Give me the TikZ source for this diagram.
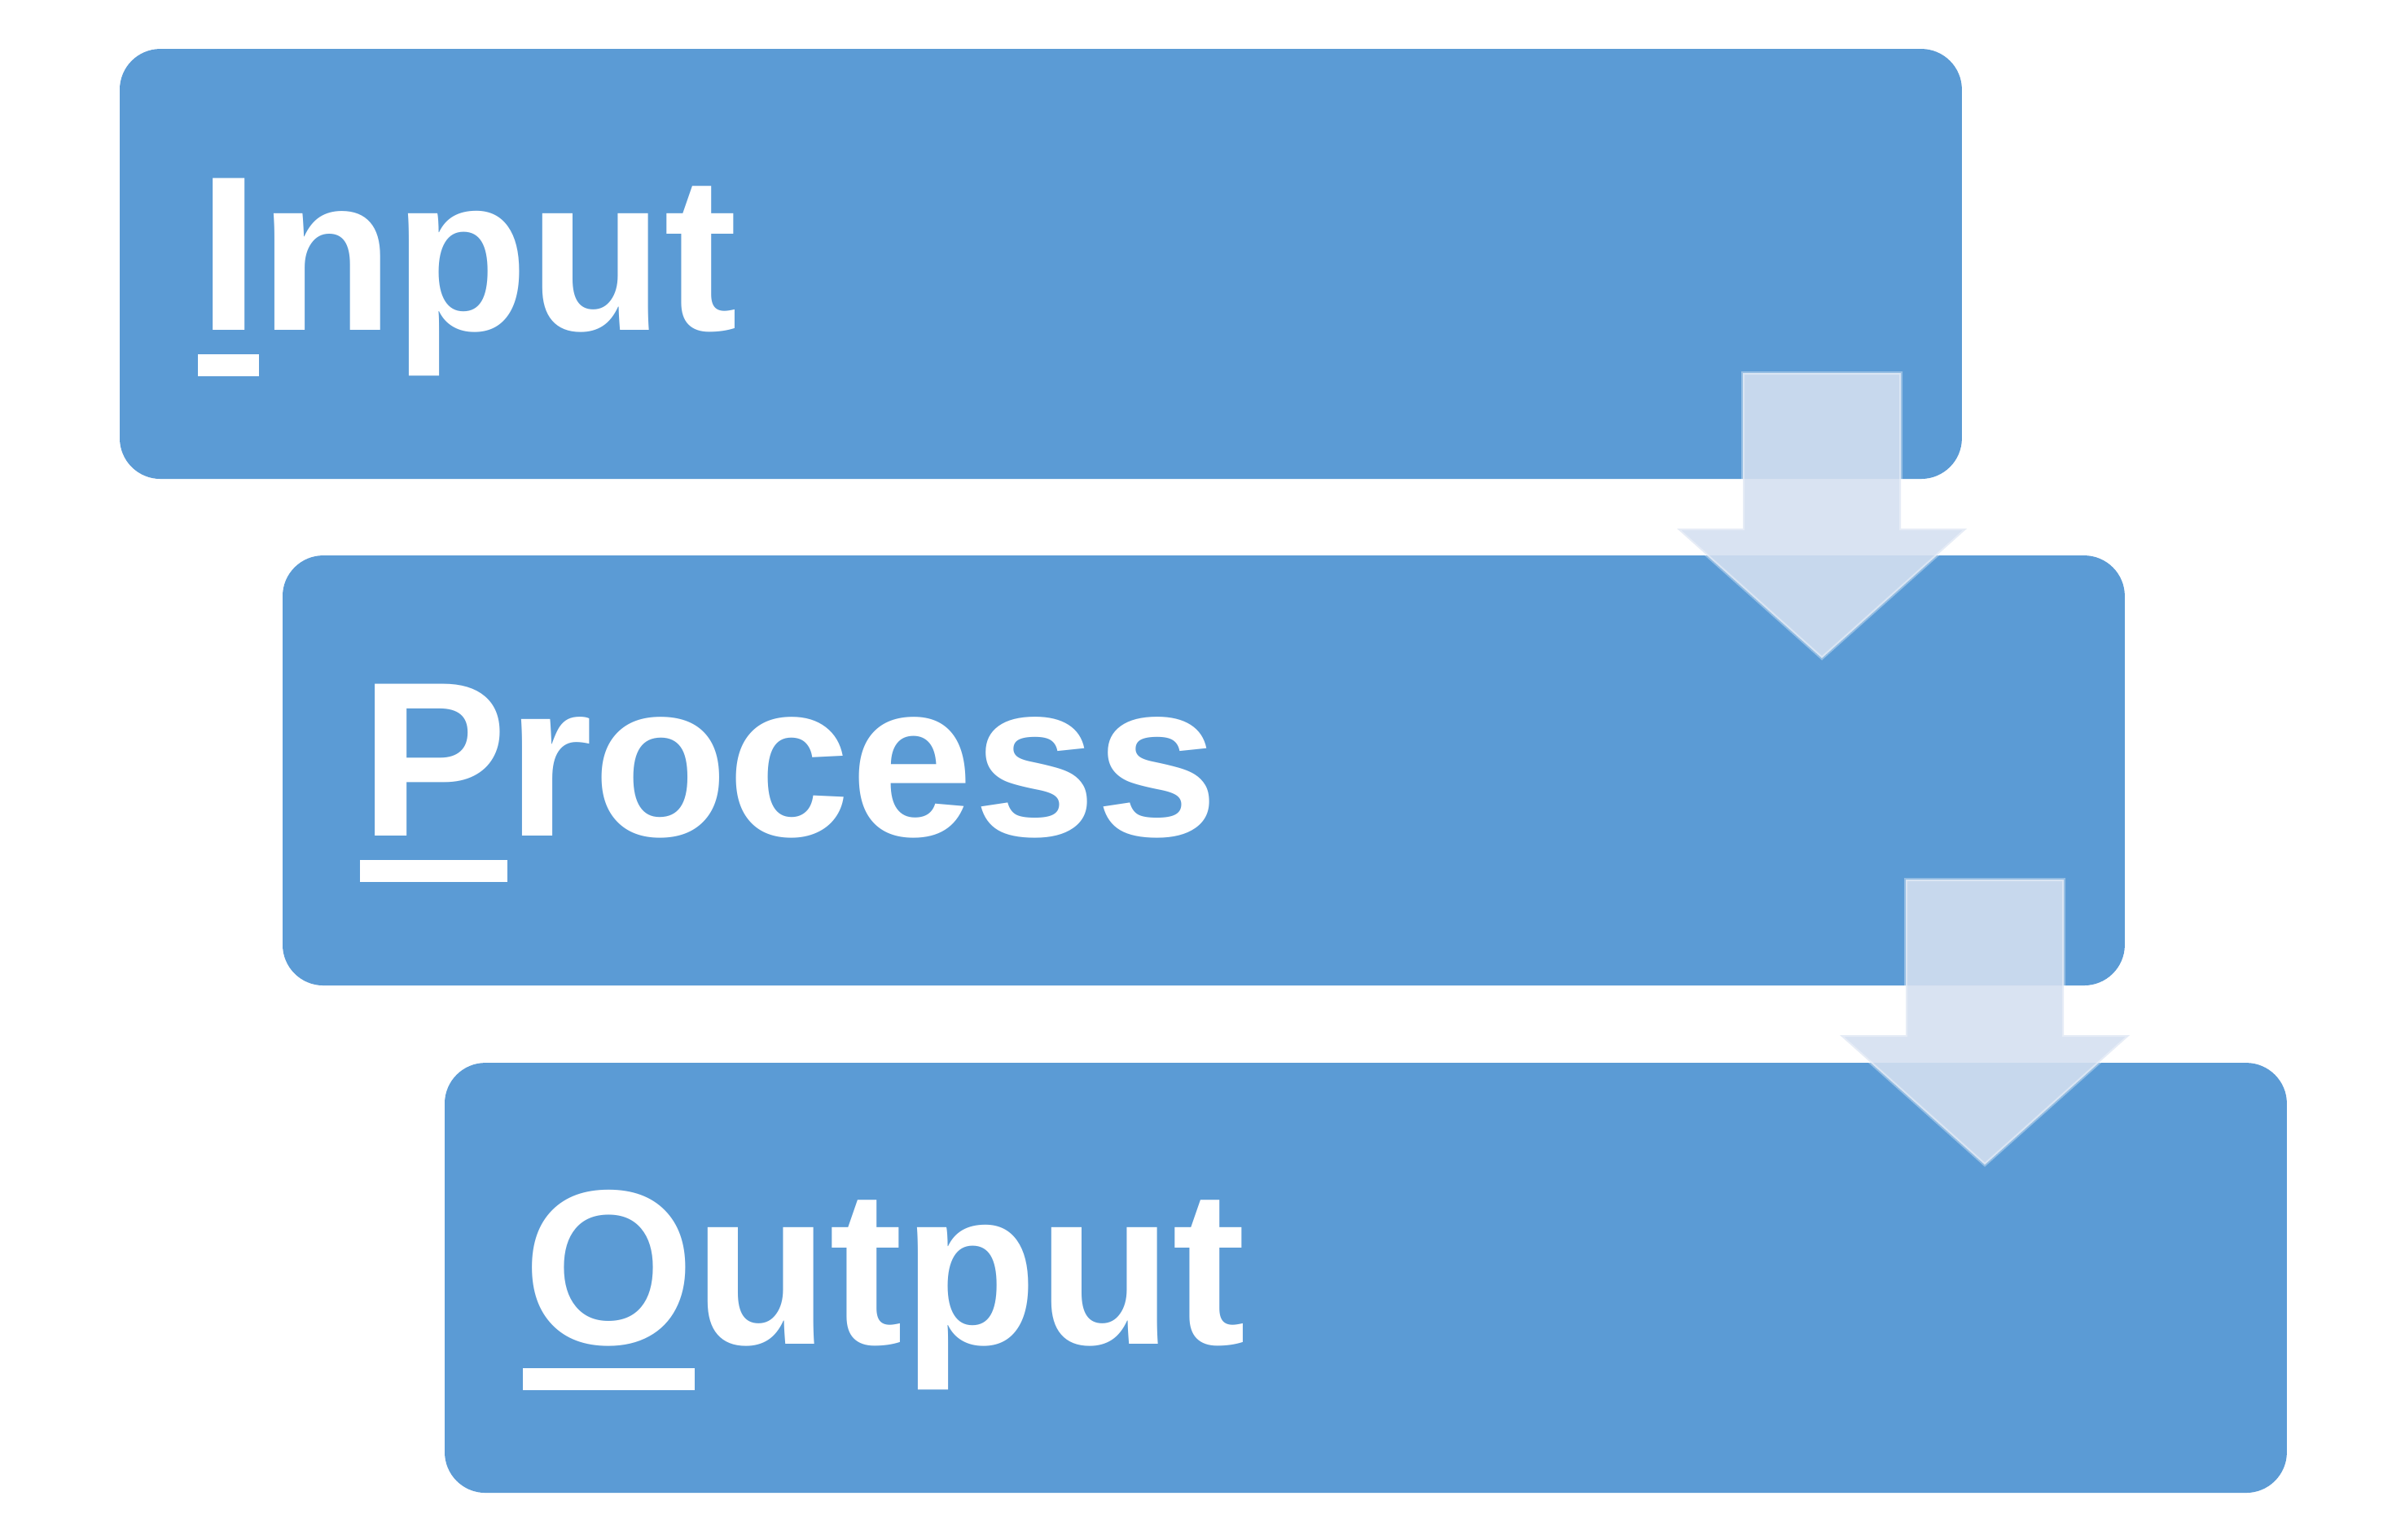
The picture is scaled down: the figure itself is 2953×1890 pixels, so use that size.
\documentclass[tikz,border=0pt]{standalone}
\usepackage{fontspec}
\setmainfont{Liberation Sans}
\definecolor{boxblue}{RGB}{91,155,213}
\definecolor{arrowfill}{RGB}{213,224,241}
\newcommand\firstul[1]{\setbox0\hbox{#1}\rlap{\rule[-0.21em]{\wd0}{0.1em}}\box0}
\begin{document}
\begin{tikzpicture}[x=0.1pt,y=-0.1pt,
  stage/.style={fill=boxblue, rounded corners=5pt, minimum width=226.2pt, minimum height=52.8pt, inner sep=0pt, anchor=north west},
  stagetext/.style={text=white, font=\fontsize{27.1pt}{32pt}\selectfont\bfseries, inner sep=0pt, anchor=base west},
  blockarrow/.style={fill=arrowfill, fill opacity=0.89, draw=white, draw opacity=0.35, line width=0.4pt}]
\useasboundingbox (0,0) rectangle (2953,1890);
\fill[white] (0,0) rectangle (2953,1890);
\node[stage] (b1) at (145,58) {};
\node[stage] (b2) at (345,680) {};
\node[stage] (b3) at (544,1303) {};
\node[stagetext] (t1) at ([shift={(96,347)}]b1.north west) {\firstul{I}nput};
\node[stagetext] (t2) at ([shift={(95,346)}]b2.north west) {\firstul{P}rocess};
\node[stagetext] (t3) at ([shift={(96,347)}]b3.north west) {\firstul{O}utput};
\path[blockarrow] (2140,458) -- (2334,458) -- (2334,649) -- (2415,649) -- (2237,808) -- (2059,649) -- (2140,649) -- cycle;
\begin{scope}[shift={(200,622)}]
\path[blockarrow] (2140,458) -- (2334,458) -- (2334,649) -- (2415,649) -- (2237,808) -- (2059,649) -- (2140,649) -- cycle;
\end{scope}
\end{tikzpicture}
\end{document}
